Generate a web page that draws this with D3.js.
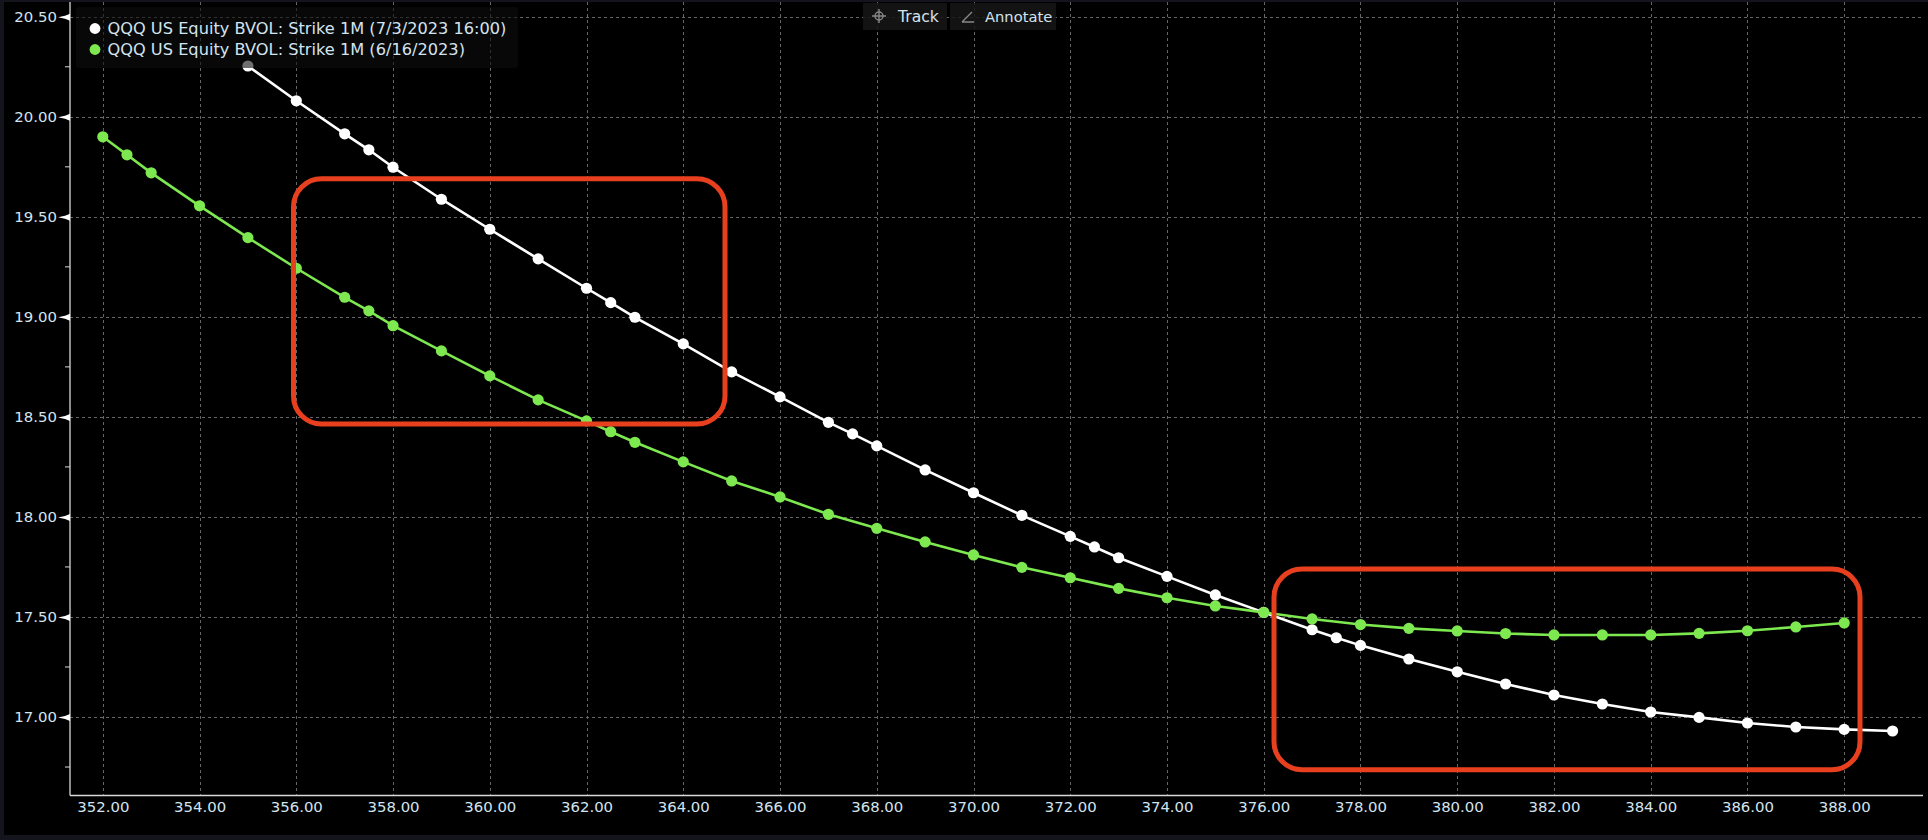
<!DOCTYPE html>
<html><head><meta charset="utf-8">
<script src="https://cdn.jsdelivr.net/npm/d3@7/dist/d3.min.js"></script>
<style>
html,body{margin:0;padding:0;background:#000;overflow:hidden}
svg{display:block}
text{font-family:"DejaVu Sans",sans-serif;fill:#d3e4ef}
</style></head><body>
<svg id="c" width="1928" height="840"></svg>
<script>
const whiteStrikes=[355,356,357,357.5,358,359,360,361,362,362.5,363,364,365,366,367,367.5,368,369,370,371,372,372.5,373,374,375,376,377,377.5,378,379,380,381,382,383,384,385,386,387,388,389];
const whiteVols=[20.254,20.08,19.915,19.835,19.748,19.588,19.438,19.29,19.143,19.071,18.998,18.865,18.725,18.60,18.473,18.415,18.355,18.235,18.121,18.008,17.903,17.85,17.796,17.703,17.61,17.523,17.436,17.396,17.358,17.29,17.226,17.165,17.11,17.065,17.025,16.998,16.97,16.95,16.938,16.93];
const greenStrikes=[352,352.5,353,354,355,356,357,357.5,358,359,360,361,362,362.5,363,364,365,366,367,368,369,370,371,372,373,374,375,376,377,378,379,380,381,382,383,384,385,386,387,388];
const greenVols=[19.90,19.81,19.72,19.555,19.396,19.243,19.098,19.03,18.956,18.83,18.705,18.585,18.48,18.426,18.373,18.275,18.18,18.10,18.013,17.943,17.875,17.81,17.748,17.696,17.643,17.596,17.555,17.523,17.49,17.462,17.443,17.43,17.417,17.41,17.41,17.41,17.418,17.431,17.45,17.47];
const xTicks=d3.range(352,389,2);
const yTicks=[17,17.5,18,18.5,19,19.5,20,20.5];
const yMinor=[16.75,17.25,17.75,18.25,18.75,19.25,19.75,20.25];
const legendLabels=["QQQ US Equity BVOL: Strike 1M (7/3/2023 16:00)","QQQ US Equity BVOL: Strike 1M (6/16/2023)"];
const seriesColors=["#ffffff","#7de84f"];

const svg=d3.select("#c");
const x=d3.scaleLinear().domain([352,388]).range([102.8,1844.2]);
const y=d3.scaleLinear().domain([17,20]).range([717.0,116.8]);
const L=70,R=1923,T=2,B=795.5;

svg.append("rect").attr("width",1928).attr("height",840).attr("fill","#000");
svg.append("rect").attr("width",1928).attr("height",2).attr("fill","#14141c");
svg.append("rect").attr("y",835).attr("width",1928).attr("height",5).attr("fill","#14141c");
svg.append("rect").attr("width",4).attr("height",840).attr("fill","#14141c");

const grid=svg.append("g").attr("stroke","#666").attr("stroke-width",1.2).attr("stroke-dasharray","2.5 3.5").attr("shape-rendering","crispEdges");
grid.selectAll(".v").data(xTicks).join("line").attr("x1",d=>Math.round(x(d))+.5).attr("x2",d=>Math.round(x(d))+.5).attr("y1",T).attr("y2",B);
grid.selectAll(".h").data(yTicks).join("line").attr("y1",d=>Math.round(y(d))+.5).attr("y2",d=>Math.round(y(d))+.5).attr("x1",L).attr("x2",R);

const xAxis=d3.axisBottom(x).tickValues(xTicks).tickSize(0).tickPadding(6).tickFormat(d3.format(".2f"));
const gx=svg.append("g").attr("transform",`translate(0,${B})`).call(xAxis);
gx.select(".domain").attr("d",`M${L},0H${R}`).attr("stroke","#d8d8d8").attr("stroke-width",1.3);
gx.selectAll("text").attr("font-size",14.9).attr("font-family","'DejaVu Sans'").attr("fill","#d3e4ef");

const yAxis=d3.axisLeft(y).tickValues(yTicks).tickSize(0).tickPadding(0).tickFormat(d3.format(".2f"));
const gy=svg.append("g").attr("transform",`translate(${L},0)`).call(yAxis);
gy.select(".domain").attr("d",`M0,${T}V${B}`).attr("stroke","#d8d8d8").attr("stroke-width",1.3);
gy.selectAll("text").attr("font-size",14.9).attr("font-family","'DejaVu Sans'").attr("x",-13).attr("fill","#d3e4ef");
gy.selectAll(".tick").append("path").attr("d","M0,-3.5L-5,-1.5L-12,0L-5,1.5L0,3.5Z").attr("fill","#fff");
svg.append("g").selectAll("line").data(yMinor).join("line")
  .attr("x1",L-5).attr("x2",L).attr("y1",d=>y(d)).attr("y2",d=>y(d)).attr("stroke","#d8d8d8");

const line=d3.line().x(d=>x(d[0])).y(d=>y(d[1]));
function draw(xs,ys,color){
  const pts=d3.zip(xs,ys);
  const g=svg.append("g");
  g.append("path").datum(pts).attr("d",line).attr("fill","none").attr("stroke",color).attr("stroke-width",2.6);
  g.selectAll("circle").data(pts).join("circle").attr("cx",d=>x(d[0])).attr("cy",d=>y(d[1])).attr("r",5.6).attr("fill",color);
}
draw(whiteStrikes,whiteVols,seriesColors[0]);
draw(greenStrikes,greenVols,seriesColors[1]);

svg.append("rect").attr("x",76).attr("y",7).attr("width",442).attr("height",61).attr("rx",3).attr("fill","#0d0d0d").attr("fill-opacity",.6);
const lg=svg.append("g").selectAll("g").data(legendLabels).join("g").attr("transform",(d,i)=>`translate(95,${28.5+i*21})`);
lg.append("circle").attr("r",5.4).attr("fill",(d,i)=>seriesColors[i]);
lg.append("text").attr("x",12.5).attr("dy","0.36em").attr("font-size",16.2).text(d=>d);

const tb=svg.append("g");
tb.append("rect").attr("x",863).attr("y",3).attr("width",84).attr("height",27).attr("fill","#161616").attr("fill-opacity",.85);
tb.append("rect").attr("x",950).attr("y",3).attr("width",106).attr("height",27).attr("fill","#161616").attr("fill-opacity",.85);
tb.append("text").attr("x",898).attr("y",21.5).attr("font-size",15.6).text("Track");
tb.append("text").attr("x",985).attr("y",21.5).attr("font-size",14.7).text("Annotate");
const ic=tb.append("g").attr("stroke","#888").attr("fill","none").attr("stroke-width",1.4);
ic.append("circle").attr("cx",879).attr("cy",16).attr("r",4);
ic.append("path").attr("d","M879,9V23M872,16H886");
ic.append("path").attr("d","M962,22L972,12M962,22H974");

const boxes=svg.append("g").attr("fill","none").attr("stroke","#e8401f").attr("stroke-width",5);
boxes.append("rect").attr("x",293.5).attr("y",178.7).attr("width",431.5).attr("height",245.3).attr("rx",28).attr("ry",28);
boxes.append("rect").attr("x",1274).attr("y",569).attr("width",586).attr("height",200.7).attr("rx",28).attr("ry",28);
</script>
</body></html>
